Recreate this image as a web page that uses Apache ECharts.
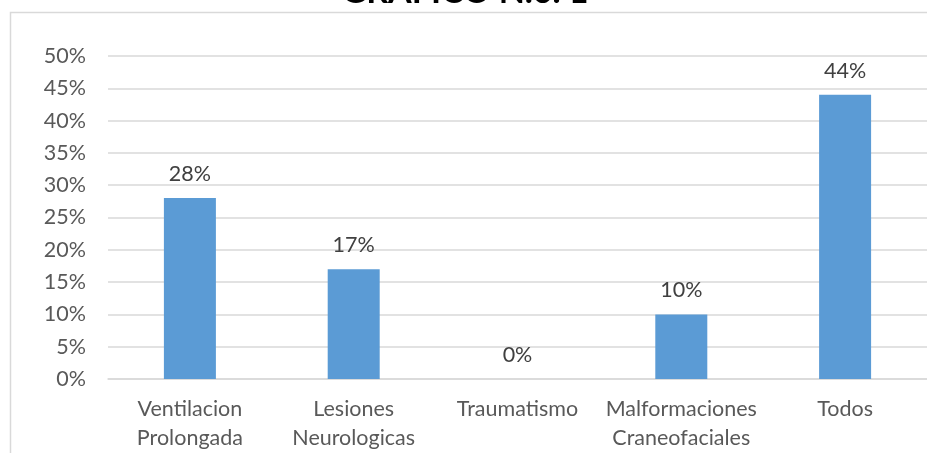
<!DOCTYPE html>
<html>
<head>
<meta charset="utf-8">
<script src="https://cdn.jsdelivr.net/npm/echarts@6/dist/echarts.min.js"></script>
<style>
  html, body { margin: 0; padding: 0; background: #ffffff; overflow: hidden; }
  #chart { width: 927px; height: 453px; }
</style>
</head>
<body>
<div id="chart"></div>
<script>
// Categorías y porcentajes del gráfico
const categories = ['Ventilacion\nProlongada', 'Lesiones\nNeurologicas', 'Traumatismo', 'Malformaciones\nCraneofaciales', 'Todos'];
const values = [28, 17, 0, 10, 44];
const yTicks = [0, 5, 10, 15, 20, 25, 30, 35, 40, 45, 50];
const titleText = 'GRAFICO N.o. 1';

const FONT = 'Lato, "Open Sans", sans-serif';
const chart = echarts.init(document.getElementById('chart'), null, { renderer: 'canvas' });

chart.setOption({
  backgroundColor: '#ffffff',
  animation: false,
  graphic: [
    {
      type: 'rect',
      shape: { x: 10.5, y: 12.5, width: 1000, height: 1000 },
      style: { fill: 'none', stroke: '#d9d9d9', lineWidth: 1.5 },
      silent: true
    },
    {
      type: 'text',
      x: 465, y: 9,
      style: {
        text: titleText,
        font: 'bold 34px ' + FONT,
        fill: '#000000',
        textAlign: 'center',
        textVerticalAlign: 'bottom'
      }
    }
  ],
  grid: { left: 108, right: 0, top: 56, bottom: 64, containLabel: false },
  xAxis: {
    type: 'category',
    data: categories,
    axisLine: { lineStyle: { color: '#d9d9d9', width: 1.5 } },
    axisTick: { show: false },
    axisLabel: {
      color: '#595959',
      fontFamily: FONT,
      fontSize: 21.5,
      lineHeight: 29,
      margin: 16,
      interval: 0
    }
  },
  yAxis: {
    type: 'value',
    min: yTicks[0],
    max: yTicks[yTicks.length - 1],
    interval: 5,
    axisLine: { show: false },
    axisTick: { show: false },
    splitLine: { lineStyle: { color: '#d9d9d9', width: 1.5 } },
    axisLabel: {
      color: '#595959',
      fontFamily: FONT,
      fontSize: 21.5,
      margin: 22,
      formatter: v => v + '%'
    }
  },
  series: [{
    type: 'bar',
    data: values,
    barWidth: 52,
    itemStyle: { color: '#5b9bd5' },
    label: {
      show: true,
      position: 'top',
      distance: 13,
      color: '#404040',
      fontFamily: FONT,
      fontSize: 21.5,
      formatter: p => p.value + '%'
    }
  }]
});
</script>
</body>
</html>
